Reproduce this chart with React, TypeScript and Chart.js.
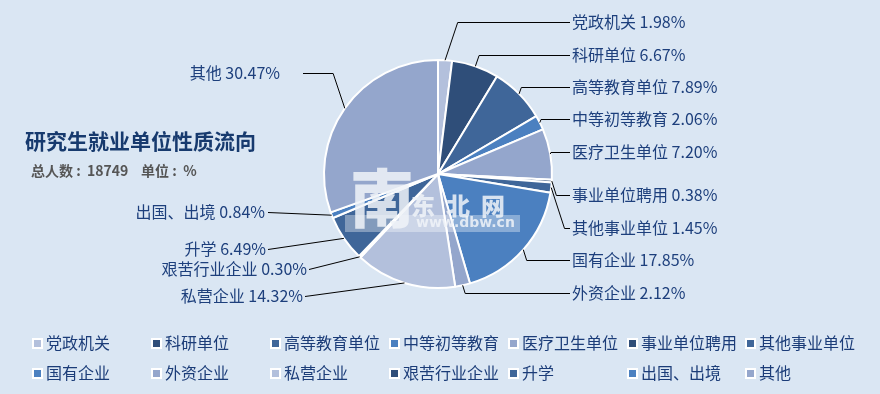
import { useEffect, useRef } from "react";
import { Chart, registerables } from "chart.js";

Chart.register(...registerables);

const categories = [
  "党政机关", "科研单位", "高等教育单位", "中等初等教育", "医疗卫生单位",
  "事业单位聘用", "其他事业单位", "国有企业", "外资企业", "私营企业",
  "艰苦行业企业", "升学", "出国、出境", "其他",
];
const shares = [1.98, 6.67, 7.89, 2.06, 7.2, 0.38, 1.45, 17.85, 2.12, 14.32, 0.3, 6.49, 0.84, 30.47];
const sliceColors = [
  "#b3c0dc", "#2f4e79", "#3f6699", "#4b80c0", "#94a6cc",
  "#2f4e79", "#3f6699", "#4b80c0", "#94a6cc", "#b3c0dc",
  "#2f4e79", "#3f6699", "#4b80c0", "#94a6cc",
];
const chartTitle = "研究生就业单位性质流向";
const chartSubtitle = "总人数 :  18749    单位 :  %";
const watermarkMain = "东  北  网";
const watermarkSub = "www.dbw.cn";

// label placement: text x, text y, alignment, x where the leader line meets the label, elbow or straight
const labelLayout = [
  { tx: 572, ty: 22, align: "left", lx: 570, elbow: true },
  { tx: 572, ty: 55, align: "left", lx: 570, elbow: true },
  { tx: 572, ty: 87, align: "left", lx: 570, elbow: true },
  { tx: 572, ty: 119, align: "left", lx: 570, elbow: true },
  { tx: 572, ty: 152, align: "left", lx: 570, elbow: true },
  { tx: 572, ty: 195, align: "left", lx: 570, elbow: true },
  { tx: 572, ty: 228, align: "left", lx: 570, elbow: true },
  { tx: 572, ty: 260, align: "left", lx: 570, elbow: true },
  { tx: 572, ty: 293, align: "left", lx: 570, elbow: true },
  { tx: 303, ty: 296, align: "right", lx: 305, elbow: false },
  { tx: 307, ty: 269, align: "right", lx: 309, elbow: false },
  { tx: 266, ty: 249, align: "right", lx: 268, elbow: false },
  { tx: 265, ty: 212, align: "right", lx: 268, elbow: false },
  { tx: 280, ty: 73, align: "right", lx: 303, elbow: true },
];

const FONT = '"Noto Sans CJK SC", "Noto Sans", sans-serif';

const decorPlugin = {
  id: "decor",
  afterDatasetsDraw(chart: any) {
    const ctx: CanvasRenderingContext2D = chart.ctx;
    const meta = chart.getDatasetMeta(0);
    ctx.save();

    // watermark
    ctx.globalAlpha = 0.35;
    ctx.fillStyle = "#ffffff";
    ctx.fillRect(345, 215, 175, 17);
    ctx.globalAlpha = 0.85;
    ctx.fillStyle = "#f0f3f8";
    ctx.font = `900 64px ${FONT}`;
    ctx.textBaseline = "middle";
    ctx.textAlign = "center";
    ctx.fillText("南", 382, 198);
    ctx.font = `900 24px ${FONT}`;
    ctx.textAlign = "left";
    ctx.fillText(watermarkMain, 411, 206);
    ctx.font = 'bold 14px "DejaVu Sans", sans-serif';
    ctx.fillText(watermarkSub, 416, 223);
    ctx.globalAlpha = 1;

    // leader lines and labels
    ctx.strokeStyle = "#000000";
    ctx.lineWidth = 1;
    meta.data.forEach((arc: any, i: number) => {
      const p = arc.getProps(["x", "y", "startAngle", "endAngle", "outerRadius"], true);
      const mid = (p.startAngle + p.endAngle) / 2;
      const ax = p.x + Math.cos(mid) * p.outerRadius;
      const ay = p.y + Math.sin(mid) * p.outerRadius;
      const L = labelLayout[i];
      ctx.beginPath();
      ctx.moveTo(ax, ay);
      if (L.elbow) {
        const dir = L.align === "left" ? 1 : -1;
        const ex = ax + dir * Math.abs(L.ty - ay) * 0.33;
        ctx.lineTo(ex, L.ty + 0.5);
      }
      ctx.lineTo(L.lx, L.ty + 0.5);
      ctx.stroke();

      ctx.fillStyle = "#1d3f7c";
      ctx.font = `16px ${FONT}`;
      ctx.textBaseline = "middle";
      ctx.textAlign = L.align as CanvasTextAlign;
      ctx.fillText(`${categories[i]} ${shares[i].toFixed(2)}%`, L.tx, L.ty);
    });

    // title
    ctx.textAlign = "left";
    ctx.textBaseline = "middle";
    ctx.fillStyle = "#173a6e";
    ctx.font = `bold 21px ${FONT}`;
    ctx.fillText(chartTitle, 25, 141);
    ctx.fillStyle = "#555555";
    ctx.font = `bold 14px ${FONT}`;
    ctx.fillText(chartSubtitle, 31, 171);

    // legend grid
    ctx.font = `16px ${FONT}`;
    categories.forEach((c, i) => {
      const col = i % 7;
      const row = Math.floor(i / 7);
      const bx = 32 + col * 118.9;
      const cy = 343 + row * 30;
      ctx.fillStyle = "#ffffff";
      ctx.fillRect(Math.round(bx), Math.round(cy - 5.5), 11, 11);
      ctx.fillStyle = sliceColors[i];
      ctx.fillRect(Math.round(bx) + 2, Math.round(cy - 5.5) + 2, 7, 7);
      ctx.fillStyle = "#1b3c78";
      ctx.textAlign = "left";
      ctx.fillText(c, Math.round(bx) + 14, cy);
    });

    ctx.restore();
  },
};

export default function App() {
  const ref = useRef<HTMLCanvasElement>(null);
  useEffect(() => {
    document.body.style.margin = "0";
    const chart = new Chart(ref.current as HTMLCanvasElement, {
      type: "pie",
      data: {
        labels: categories,
        datasets: [
          {
            data: shares,
            backgroundColor: sliceColors,
            borderColor: "#ffffff",
            borderWidth: 2,
          },
        ],
      },
      options: {
        animation: false,
        responsive: false,
        maintainAspectRatio: false,
        layout: { padding: { top: 59, bottom: 105, left: 323, right: 327 } },
        plugins: {
          legend: { display: false },
          tooltip: { enabled: false },
          title: { display: false },
        },
      },
      plugins: [decorPlugin],
    });
    return () => chart.destroy();
  }, []);
  return (
    <div style={{ width: 880, height: 394, background: "#dae6f3" }}>
      <canvas ref={ref} width={880} height={394} style={{ display: "block" }} />
    </div>
  );
}
